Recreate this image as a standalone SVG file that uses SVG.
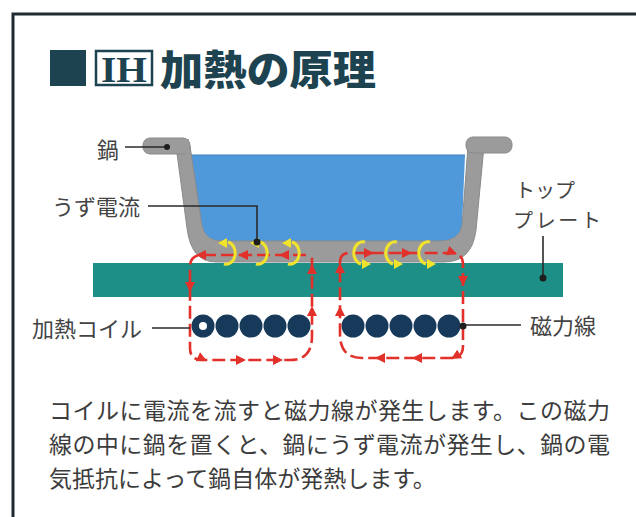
<svg xmlns="http://www.w3.org/2000/svg" xmlns:xlink="http://www.w3.org/1999/xlink" width="636" height="517" viewBox="0 0 636 517">
  <style>
    .lbl { font-family: "Noto Sans CJK JP", "Noto Sans", sans-serif; font-size: 22px; font-weight: 400; fill: #444444; }
    .body { font-family: "Noto Sans CJK JP", "Noto Sans", sans-serif; font-size: 23px; font-weight: 400; fill: #3c3c3c; }
    .lead { fill: none; stroke: #2a2a2a; stroke-width: 1.6; }
    .dot { fill: #1e1e1e; }
    .flux { fill: none; stroke: #e2302a; stroke-width: 2.6; stroke-dasharray: 13 5; }
    .eddy { fill: none; stroke: #f1e22c; stroke-width: 3; }
    .coil { fill: #183a5a; }
  </style>
  <defs>
    <path id="ah" d="M0,0 L-10,-5 L-10,5 Z" fill="#e2302a"/>
    <path id="yh" d="M0,0 L-9,-5 L-9,5 Z" fill="#f1e22c"/>
  </defs>

  <rect width="636" height="517" fill="#ffffff"/>

  <!-- frame -->
  <path d="M13,517 L13,14 L636,14" fill="none" stroke="#1f2b31" stroke-width="3"/>

  <!-- heading -->
  <g id="title">
    <rect x="50" y="50" width="36" height="36" fill="#1d4350"/>
    <rect x="96" y="51" width="56" height="34" fill="#ffffff" stroke="#1d4350" stroke-width="2.5"/>
    <text x="124" y="82" text-anchor="middle" font-family="Liberation Serif, serif" font-weight="bold" font-size="36" fill="#1d4350" textLength="46" lengthAdjust="spacingAndGlyphs">IH</text>
    <text x="160" y="85" font-family="Noto Sans CJK JP, sans-serif" font-weight="900" font-size="41" fill="#1d4350" textLength="216" lengthAdjust="spacingAndGlyphs">加熱の原理</text>
  </g>

  <!-- top plate -->
  <g id="plate">
    <rect x="93" y="263" width="470" height="34" fill="#1e8f87"/>
  </g>

  <!-- pot with water -->
  <g id="pot">
    <path d="M191,155 L465,155 L462,226 Q459,241 440,241 L222,241 Q205,241 202,226 Z" fill="#4f98da"/>
    <line x1="191" y1="155" x2="465" y2="155" stroke="#3f7fc0" stroke-width="1"/>
    <path d="M176,146 L187,228 Q191,262 216,262 L444,262 Q472,262 476,230 L484,146 L468,146 L462,226 Q459,241 440,241 L222,241 Q205,241 202,226 L190,146 Z" fill="#9b9b9b" stroke="#8a8a8a" stroke-width="1"/>
    <rect x="143" y="138" width="47" height="16" rx="7" fill="#9b9b9b" stroke="#8a8a8a" stroke-width="1"/>
    <rect x="466" y="137" width="46" height="16" rx="7" fill="#9b9b9b" stroke="#8a8a8a" stroke-width="1"/>
    <rect x="176" y="139" width="13" height="14" fill="#9b9b9b"/>
    <rect x="469" y="138" width="14" height="14" fill="#9b9b9b"/>
  </g>

  <!-- induction coil -->
  <g id="coil">
    <circle class="coil" cx="203" cy="326" r="11.5"/>
    <circle cx="203" cy="326" r="4" fill="#ffffff"/>
    <circle class="coil" cx="227" cy="326" r="11.5"/>
    <circle class="coil" cx="251" cy="326" r="11.5"/>
    <circle class="coil" cx="275" cy="326" r="11.5"/>
    <circle class="coil" cx="299" cy="326" r="11.5"/>
    <circle class="coil" cx="353" cy="326" r="11.5"/>
    <circle class="coil" cx="377" cy="326" r="11.5"/>
    <circle class="coil" cx="401" cy="326" r="11.5"/>
    <circle class="coil" cx="425" cy="326" r="11.5"/>
    <circle class="coil" cx="449" cy="326" r="11.5"/>
  </g>

  <!-- magnetic flux loops and eddy currents -->
  <g id="connectors">
    <path class="flux" d="M306,255 L202,255 Q190,255 190,267 L190,348 Q190,360 202,360 L290,360 Q312,360 312,336 L312,257"/>
    <use xlink:href="#ah" transform="translate(196,255) rotate(180)"/>
    <use xlink:href="#ah" transform="translate(238,255) rotate(180)"/>
    <use xlink:href="#ah" transform="translate(279,255) rotate(180)"/>
    <use xlink:href="#ah" transform="translate(190,292) rotate(90)"/>
    <use xlink:href="#ah" transform="translate(207,361) rotate(25)"/>
    <use xlink:href="#ah" transform="translate(246,360)"/>
    <use xlink:href="#ah" transform="translate(283,360)"/>
    <use xlink:href="#ah" transform="translate(312,306) rotate(-90)"/>
    <use xlink:href="#ah" transform="translate(312,264) rotate(-90)"/>

    <path class="flux" d="M340,262 Q340,253 350,253 L452,253 Q463,253 463,265 L463,346 Q463,358 451,358 L362,358 Q340,358 340,334 L340,262"/>
    <use xlink:href="#ah" transform="translate(374,253)"/>
    <use xlink:href="#ah" transform="translate(412,253)"/>
    <use xlink:href="#ah" transform="translate(457,254) rotate(20)"/>
    <use xlink:href="#ah" transform="translate(463,286) rotate(90)"/>
    <use xlink:href="#ah" transform="translate(451,359) rotate(150)"/>
    <use xlink:href="#ah" transform="translate(412,358) rotate(180)"/>
    <use xlink:href="#ah" transform="translate(375,358) rotate(180)"/>
    <use xlink:href="#ah" transform="translate(340,306) rotate(-90)"/>
    <use xlink:href="#ah" transform="translate(340,263) rotate(-90)"/>

    <path class="eddy" d="M224,264 A9 11 0 0 0 228,242"/>
    <use xlink:href="#yh" transform="translate(218,243) rotate(180)"/>
    <path class="eddy" d="M256,264 A9 11 0 0 0 260,242"/>
    <use xlink:href="#yh" transform="translate(250,243) rotate(180)"/>
    <path class="eddy" d="M288,264 A9 11 0 0 0 292,242"/>
    <use xlink:href="#yh" transform="translate(282,243) rotate(180)"/>

    <path class="eddy" d="M365,242 A9 11 0 0 0 361,264"/>
    <use xlink:href="#yh" transform="translate(371,264)"/>
    <path class="eddy" d="M397,242 A9 11 0 0 0 393,264"/>
    <use xlink:href="#yh" transform="translate(403,264)"/>
    <path class="eddy" d="M430,242 A9 11 0 0 0 426,264"/>
    <use xlink:href="#yh" transform="translate(436,264)"/>

    <!-- leader lines -->
    <path class="lead" d="M125,147 L167,147"/>
    <circle class="dot" cx="167" cy="147" r="3"/>
    <path class="lead" d="M148,206 L257,206 L257,242"/>
    <circle class="dot" cx="257" cy="242" r="3.5"/>
    <path class="lead" d="M543,236 L543,278"/>
    <circle class="dot" cx="543" cy="278" r="3.5"/>
    <path class="lead" d="M152,328 L190,328"/>
    <path class="lead" d="M463,325 L521,325"/>
    <circle class="dot" cx="463" cy="326" r="3.5"/>
  </g>

  <!-- labels -->
  <g id="labels">
    <text class="lbl" x="97" y="158">鍋</text>
    <text class="lbl" x="52" y="215">うず電流</text>
    <text class="lbl" x="515" y="198" style="font-size:20px">トップ</text>
    <text class="lbl" x="513" y="228" style="font-size:20px" textLength="88" lengthAdjust="spacing">プレート</text>
    <text class="lbl" x="32" y="337">加熱コイル</text>
    <text class="lbl" x="530" y="334">磁力線</text>
  </g>

  <!-- caption -->
  <g id="caption">
    <text class="body" x="49" y="419" textLength="561" lengthAdjust="spacing">コイルに電流を流すと磁力線が発生します。この磁力</text>
    <text class="body" x="49" y="453" textLength="561" lengthAdjust="spacing">線の中に鍋を置くと、鍋にうず電流が発生し、鍋の電</text>
    <text class="body" x="49" y="487">気抵抗によって鍋自体が発熱します。</text>
  </g>
</svg>
